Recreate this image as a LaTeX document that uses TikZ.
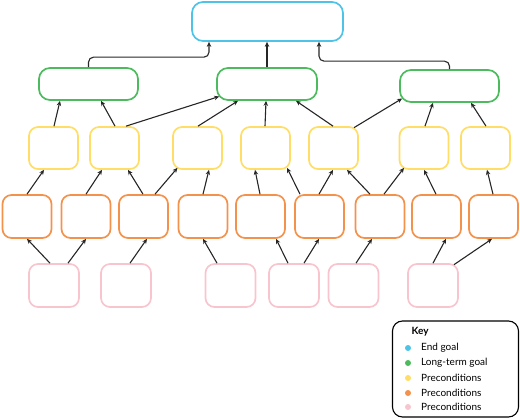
\documentclass[tikz,border=0pt]{standalone}
\usepackage{fontspec}
\setmainfont{Lato}
\usetikzlibrary{arrows.meta}
\definecolor{cblue}{HTML}{4DC3E8}
\definecolor{cgreen}{HTML}{4CBB5E}
\definecolor{cyellow}{HTML}{FFDD66}
\definecolor{corange}{HTML}{F4914A}
\definecolor{cpink}{HTML}{F8C5CF}
\tikzset{
  bx/.style={draw=#1, line width=1.7pt, rounded corners=9pt, fill=white, inner sep=0pt},
  small/.style={minimum width=49pt, minimum height=42pt},
  arr/.style={-{Stealth[length=5pt,width=4.5pt]}, line width=1.1pt, black!85},
  keytxt/.style={anchor=west, font=\fontsize{10}{12}\selectfont, inner sep=0pt},
  dot/.style={circle, fill=#1, minimum size=6pt, inner sep=0pt}
}
\begin{document}
\begin{tikzpicture}[x=1pt,y=-1pt]
\useasboundingbox (0,0) rectangle (520,420);
% end goal
\node[bx=cblue, minimum width=151pt, minimum height=39pt, rounded corners=11pt] (B) at (267.5,21.5) {};
% long-term goals
\node[bx=cgreen, minimum width=99pt, minimum height=32pt, rounded corners=11pt] (G1) at (88.5,84) {};
\node[bx=cgreen, minimum width=100pt, minimum height=32pt, rounded corners=11pt] (G2) at (267,84) {};
\node[bx=cgreen, minimum width=99pt, minimum height=32pt, rounded corners=11pt] (G3) at (449.5,86) {};
% yellow
\foreach \n/\x in {Y1/53.5,Y2/114.5,Y3/197.5,Y4/265.5,Y5/333.5,Y6/424,Y7/485.5}
  \node[bx=cyellow, small] (\n) at (\x,148) {};
% orange
\foreach \n/\x in {O1/27,O2/86,O3/143.5,O4/203,O5/260.5,O6/319.5,O7/380,O8/436.5,O9/493.5}
  \node[bx=corange, small, minimum height=43pt] (\n) at (\x,216.5) {};
% pink
\foreach \n/\x in {P1/54,P2/126,P3/230.5,P4/294,P5/353.5,P6/433}
  \node[bx=cpink, small, minimum width=50pt, minimum height=43pt] (\n) at (\x,285.5) {};
% green -> blue
\draw[arr, rounded corners=5pt] (G1.north) -- ++(0,-10) -| ([xshift=-58.5pt]B.south);
\draw[arr] (G2.north) -- (G2.north |- B.south);
\draw[arr, rounded corners=5pt] (G3.north) -- ++(0,-8) -| ([xshift=51.5pt]B.south);
% yellow -> green
\draw[arr] ([xshift=0.5pt]Y1.north) -- ([xshift=-28.5pt]G1.south);
\draw[arr] ([xshift=0.5pt]Y2.north) -- ([xshift=12.5pt]G1.south);
\draw[arr] ([xshift=11.5pt]Y2.north) -- ([xshift=3pt,yshift=-12.5pt]G2.west);
\draw[arr] ([xshift=0.5pt]Y3.north) -- ([xshift=-29pt]G2.south);
\draw[arr] ([xshift=-0.5pt]Y4.north) -- ([xshift=-1pt]G2.south);
\draw[arr] ([xshift=-0.5pt]Y5.north) -- ([xshift=29pt]G2.south);
\draw[arr] ([xshift=20.5pt,yshift=-1.5pt]Y5.north) -- ([xshift=3pt,yshift=-12.5pt]G3.west);
\draw[arr] ([xshift=1pt]Y6.north) -- ([xshift=-16.5pt]G3.south);
\draw[arr] ([xshift=0.5pt]Y7.north) -- ([xshift=21.5pt]G3.south);
% orange -> yellow
\draw[arr] (O1.north) -- ([xshift=-9.5pt]Y1.south);
\draw[arr] (O2.north) -- ([xshift=-12.5pt]Y2.south);
\draw[arr] ([xshift=-0.5pt]O3.north) -- ([xshift=13.5pt]Y2.south);
\draw[arr] ([xshift=11.5pt]O3.north) -- ([xshift=-20pt,yshift=2pt]Y3.south);
\draw[arr] (O4.north) -- ([xshift=11.5pt]Y3.south);
\draw[arr] ([xshift=-0.5pt]O5.north) -- ([xshift=-10.5pt]Y4.south);
\draw[arr] ([xshift=-19.5pt]O6.north) -- ([xshift=21.5pt,yshift=2pt]Y4.south);
\draw[arr] ([xshift=-0.5pt]O6.north) -- ([xshift=-0.5pt]Y5.south);
\draw[arr] ([xshift=-10pt]O7.north) -- ([xshift=13.5pt]Y5.south);
\draw[arr] ([xshift=4pt]O7.north) -- ([xshift=-20pt,yshift=2pt]Y6.south);
\draw[arr] ([xshift=-0.5pt]O8.north) -- (Y6.south);
\draw[arr] ([xshift=-0.5pt]O9.north) -- ([xshift=1.5pt]Y7.south);
% pink -> orange
\draw[arr] ([xshift=-4pt]P1.north) -- (O1.south);
\draw[arr] ([xshift=14pt]P1.north) -- (O2.south);
\draw[arr] ([xshift=4pt]P2.north) -- ([xshift=3.5pt]O3.south);
\draw[arr] ([xshift=-13.5pt]P3.north) -- (O4.south);
\draw[arr] ([xshift=-6pt]P4.north) -- ([xshift=15.5pt]O5.south);
\draw[arr] ([xshift=10pt]P4.north) -- ([xshift=-0.5pt]O6.south);
\draw[arr] ([xshift=2.5pt]P5.north) -- ([xshift=-8pt]O7.south);
\draw[arr] (P6.north) -- ([xshift=9.5pt]O8.south);
\draw[arr] ([xshift=21pt,yshift=-1.5pt]P6.north) -- ([xshift=-1.5pt]O9.south);
% key
\node[draw=black, line width=1.1pt, rounded corners=10pt, minimum width=126pt, minimum height=96pt, inner sep=0pt] (K) at (455.5,369) {};
\node[keytxt, font=\fontsize{10}{12}\selectfont\bfseries] (kt) at (411.5,332) {Key};
\node[dot=cblue] (d1) at (408,348) {};
\node[dot=cgreen] (d2) at (408,363) {};
\node[dot=cyellow] (d3) at (408,378) {};
\node[dot=corange] (d4) at (408,393) {};
\node[dot=cpink] (d5) at (408,407) {};
\node[keytxt] (t1) at (421,348) {End goal};
\node[keytxt] (t2) at (421,363) {Long-term goal};
\node[keytxt] (t3) at (421,378) {Preconditions};
\node[keytxt] (t4) at (421,393) {Preconditions};
\node[keytxt] (t5) at (421,407) {Preconditions};
\end{tikzpicture}
\end{document}
